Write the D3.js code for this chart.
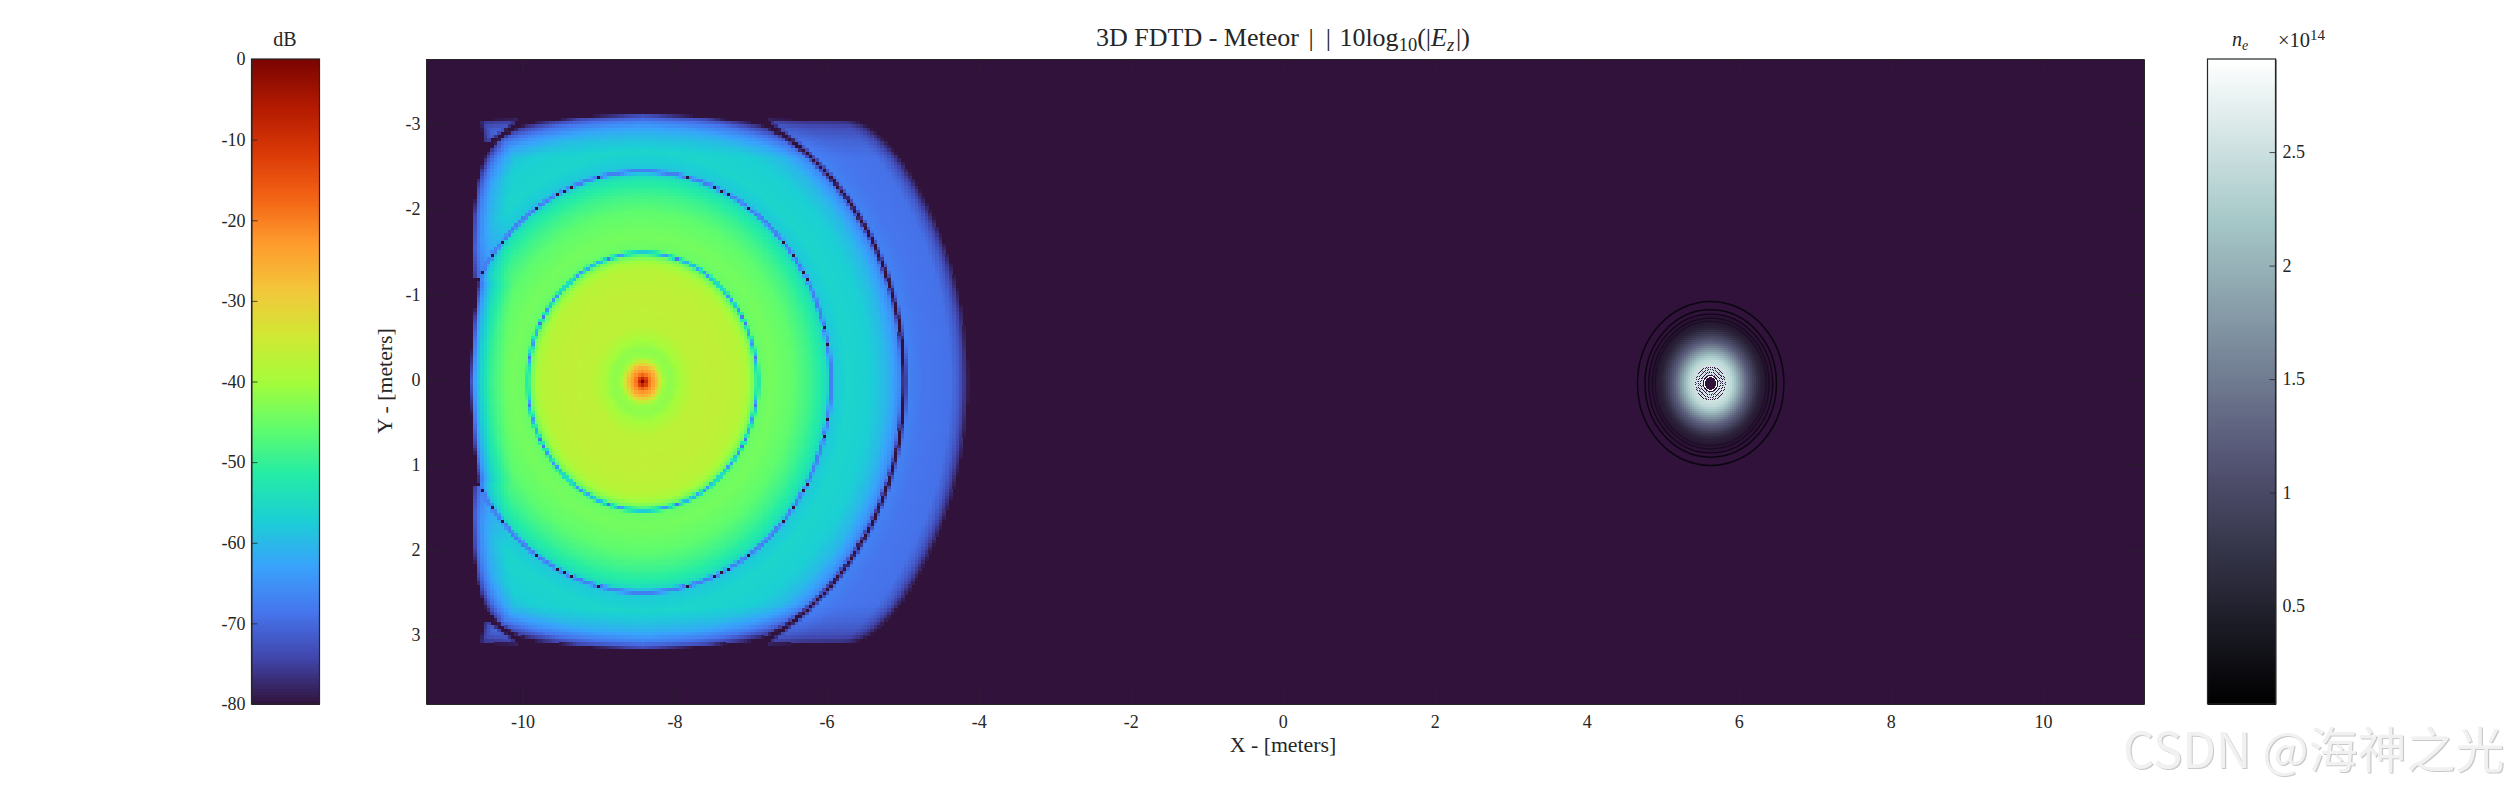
<!DOCTYPE html>
<html><head><meta charset="utf-8">
<script src="https://cdn.jsdelivr.net/npm/d3@7/dist/d3.min.js"></script>
<style>
html,body{margin:0;padding:0;background:#fff;overflow:hidden}
svg{display:block}
text{font-family:"Liberation Serif",serif;fill:#262626}
</style></head><body>
<script>
// NOTE: the simulated field has tens of thousands of cells and cannot be typed cell by cell.
// The arrays below are radial / edge profiles; each heatmap
// cell is looked up from them, so the cell values are a reconstruction, not per-cell readings.

const turboStops = ["#30123b","#4145ab","#4675ed","#39a2fc","#1bcfd4","#24eca6","#61fc6c","#a4fc3b","#d1e834","#f3c63a","#fe9b2d","#f36315","#d93806","#b11901","#7a0402"];
const boneStops  = ["#000000","#535373","#a6c8c8","#ffffff"];
const boneAt     = [0,0.375,0.75,1];
const background = "#30123b";

const xTicks = [-10,-8,-6,-4,-2,0,2,4,6,8,10];
const yTicks = [-3,-2,-1,0,1,2,3];
const dbTicks = [0,-10,-20,-30,-40,-50,-60,-70,-80];
const neTicks = [0.5,1,1.5,2,2.5];

// source position (metres)
const sourceX = -8.42, sourceY = 0.025;
// envelope of the field against distance from the source (metres -> dB)
const envelopeR  = [0,0.05,0.09,0.13,0.18,0.22,0.28,0.38,0.5,0.65,1.0,1.3,1.4,1.46,1.51,1.56,1.7,2.0,2.2,2.35,2.43,2.47,2.52,2.7,3.0,3.2,3.3,3.38,3.44,3.5,3.7,4.05,4.15,4.22,4.29];
const envelopeDb = [0,-10,-19,-23,-27,-33,-41,-42,-39.5,-37,-36.5,-37.5,-40,-44,-46,-45,-44,-46,-49,-52,-55,-58,-58,-56,-57,-60,-63,-66,-67,-67,-68.5,-69,-71.5,-75,-80];
// nodal rings: radius, width, usual lowest level and the level of an exact hit
const ringR     = [1.51,2.47,3.44];
const ringWidth = [0.04,0.04,0.06];
const ringFloor = [-64,-67,-80];
const ringExact = [-68,-80,-80];
// left edge of the lit region: |dy| from source -> dx from source (metres)
const leftEdgeDy = [0,0.37,0.77,1.15,1.23,1.55,1.94,2.33,2.6,2.76,3.2];
const leftEdgeDx = [-2.29,-2.27,-2.24,-2.2,-2.27,-2.28,-2.27,-2.23,-2.17,-2.1,-2.2];
// top and bottom edge: |dx| from source -> |dy| from source (metres)
const topEdgeDx = [0,0.7,1.4,1.7,5];
const topEdgeDy = [3.2,3.17,3.12,3.11,3.11];
// loss towards the edge of the lit region: distance -> dB
const edgeDist = [0,0.04,0.08,0.15,0.25,0.35,0.5];
const edgeLoss = [35,22,14,9,5,2.5,0];
const lobeLossShare = 0.45;

// plasma
const plasmaX = 5.63, plasmaY = 0.047;
const plasmaR = [0,0.2,0.27,0.33,0.4,0.47,0.55,0.65,0.75,0.86];
const plasmaN = [2.65,2.55,2.4,2.1,1.7,1.3,0.95,0.6,0.35,0.15];
const plasmaFadeR = [0.55,0.82];
const plasmaContours = [0.963,0.865,0.815,0.767,0.73];
const plasmaContourOpacity = [1,1,0.9,0.6,0.4];
const coreBands = [0.072,0.087,0.101,0.122,0.136,0.156,0.168,0.186,0.2];

const W = 2508, H = 792;
const main = {l:426,r:2144,t:59,b:704};
const x = d3.scaleLinear().domain([-11.27,11.33]).range([main.l,main.r]);
const y = d3.scaleLinear().domain([-3.763,3.81]).range([main.t,main.b]);
const dbScale = d3.scaleLinear().domain([-80,0]).range([704,59]);
const neScale = d3.scaleLinear().domain([0.069,2.91]).range([704,59]);

const turbo = d3.scaleLinear().domain(turboStops.map((_,i)=>-80+80*i/(turboStops.length-1))).range(turboStops).interpolate(d3.interpolateRgb).clamp(true);
const bone = d3.scaleLinear().domain(boneAt.map(t=>0.069+t*(2.91-0.069))).range(boneStops).interpolate(d3.interpolateRgb).clamp(true);
const envelope = d3.scaleLinear().domain(envelopeR).range(envelopeDb).clamp(true);
const leftEdge = d3.scaleLinear().domain(leftEdgeDy).range(leftEdgeDx).clamp(true);
const topEdge = d3.scaleLinear().domain(topEdgeDx).range(topEdgeDy).clamp(true);
const loss = d3.scaleLinear().domain(edgeDist).range(edgeLoss).clamp(true);
const plasmaDensity = d3.scaleLinear().domain(plasmaR).range(plasmaN).clamp(true);
const plasmaAlpha = d3.scaleLinear().domain(plasmaFadeR).range([1,0]).clamp(true);

const svg = d3.select("body").append("svg").attr("width",W).attr("height",H);
const plot = svg.append("g");
plot.append("rect").attr("x",main.l).attr("y",main.t).attr("width",main.r-main.l).attr("height",main.b-main.t).attr("fill",background);

// field cells
const cellX = 0.045, cellY = 0.04;
const fieldCells = [];
for (let i=-60;i<=110;i++) for (let j=-85;j<=85;j++){
  const dx=i*cellX, dy=j*cellY, r=Math.hypot(dx,dy);
  if (r>4.3) continue;
  const dT = topEdge(Math.abs(dx))-Math.abs(dy);
  const dL = dx-leftEdge(Math.abs(dy));
  if (dT<0||dL<0) continue;
  const share = r>ringR[2] ? lobeLossShare : 1;
  let v = envelope(r)-share*loss(Math.min(dT,dL));
  ringR.forEach((r0,k)=>{
    const d=Math.abs(r-r0);
    if (d<ringWidth[k]){
      const low = d<0.0025 ? ringExact[k] : ringFloor[k];
      v = Math.min(v, Math.max(v+20*Math.log10(Math.max(d,1e-4)/ringWidth[k]), low));
    }
  });
  if (v>-79.5) fieldCells.push({x:sourceX+dx,y:sourceY+dy,v});
}
plot.append("g").attr("shape-rendering","crispEdges").selectAll("rect").data(fieldCells).join("rect")
  .attr("x",d=>x(d.x-cellX/2)).attr("y",d=>y(d.y-cellY/2))
  .attr("width",x(cellX)-x(0)+0.4).attr("height",y(cellY)-y(0)+0.4)
  .attr("fill",d=>turbo(d.v));

// plasma cells
const pCellX=0.0263,pCellY=0.0235;
const plasmaCells=[];
for(let i=-36;i<=36;i++)for(let j=-40;j<=40;j++){
  const dx=i*pCellX,dy=j*pCellY,r=Math.hypot(dx,dy);
  if(r>0.84) continue;
  const c=d3.color(bone(plasmaDensity(r)));
  c.opacity=plasmaAlpha(r);
  plasmaCells.push({x:plasmaX+dx,y:plasmaY+dy,fill:c.formatRgb()});
}
plot.append("g").attr("shape-rendering","crispEdges").selectAll("rect").data(plasmaCells).join("rect")
  .attr("x",d=>x(d.x-pCellX/2)).attr("y",d=>y(d.y-pCellY/2))
  .attr("width",x(pCellX)-x(0)+0.3).attr("height",y(pCellY)-y(0)+0.3).attr("fill",d=>d.fill);
// plasma core, fine cells
const qCellX=pCellX/2,qCellY=pCellY/2;
const coreCells=[];
for(let i=-18;i<=18;i++)for(let j=-20;j<=20;j++){
  const dx=i*qCellX,dy=j*qCellY,r=Math.hypot(dx,dy);
  if(r>0.2) continue;
  const k=coreBands.findIndex(b=>r<b);
  let fill;
  if(k===0) fill=background;
  else {
    const dark=(k%2===0);
    if(dark&&(r<0.12||(i+j)%2===0)) fill=background;
    else if(!dark&&r<0.1) fill="#fdfdfd";
    else if(!dark&&(i*3+j*5)%7===0) fill="#6d6a8a";
    else fill=bone(plasmaDensity(r));
  }
  coreCells.push({x:plasmaX+dx,y:plasmaY+dy,fill});
}
plot.append("g").attr("shape-rendering","crispEdges").selectAll("rect").data(coreCells).join("rect")
  .attr("x",d=>x(d.x-qCellX/2)).attr("y",d=>y(d.y-qCellY/2))
  .attr("width",x(qCellX)-x(0)+0.2).attr("height",y(qCellY)-y(0)+0.2).attr("fill",d=>d.fill);
plot.append("g").selectAll("ellipse").data(plasmaContours).join("ellipse")
  .attr("cx",x(plasmaX)).attr("cy",y(plasmaY))
  .attr("rx",d=>x(d)-x(0)).attr("ry",d=>y(d)-y(0))
  .attr("fill","none").attr("stroke","#0a0610").attr("stroke-width",(d,i)=>i<2?1.5:1.2)
  .attr("stroke-opacity",(d,i)=>plasmaContourOpacity[i]);

// axes
const style = (g,size)=>{
  g.selectAll("text").attr("font-size",size).attr("fill","#262626").attr("font-family",'"Liberation Serif",serif');
  g.selectAll("line").attr("stroke","#262626").attr("stroke-width",0.8);
  g.selectAll(".domain").attr("stroke","#262626").attr("stroke-width",1);
};
const fmt = d=>String(d);
svg.append("g").attr("transform",`translate(0,${main.b})`)
  .call(d3.axisBottom(x).tickValues(xTicks).tickFormat(fmt).tickSizeInner(-17).tickSizeOuter(0).tickPadding(11)).call(style,18);
svg.append("g").attr("transform",`translate(${main.l},0)`)
  .call(d3.axisLeft(y).tickValues(yTicks).tickFormat(fmt).tickSizeInner(-17).tickSizeOuter(0).tickPadding(5.5)).call(style,18);
svg.append("g").attr("transform",`translate(0,${main.t})`)
  .call(d3.axisTop(x).tickValues(xTicks).tickFormat("").tickSizeInner(-17).tickSizeOuter(0)).call(style,18);
svg.append("g").attr("transform",`translate(${main.r},0)`)
  .call(d3.axisRight(y).tickValues(yTicks).tickFormat("").tickSizeInner(-17).tickSizeOuter(0)).call(style,18);

// colour bars
const barL={l:251.5,r:319.5}, barR={l:2207.5,r:2275.5};
const levels=d3.range(256);
svg.append("g").attr("shape-rendering","crispEdges").selectAll("rect").data(levels).join("rect")
  .attr("x",barL.l).attr("width",barL.r-barL.l)
  .attr("y",d=>dbScale(-80+80*(d+1)/256)).attr("height",645/256+0.6)
  .attr("fill",d=>turbo(-80+80*(d+0.5)/256));
svg.append("g").attr("shape-rendering","crispEdges").selectAll("rect").data(levels).join("rect")
  .attr("x",barR.l).attr("width",barR.r-barR.l)
  .attr("y",d=>neScale(0.069+2.841*(d+1)/256)).attr("height",645/256+0.6)
  .attr("fill",d=>bone(0.069+2.841*(d+0.5)/256));
[barL,barR].forEach(b=>svg.append("rect").attr("x",b.l).attr("y",59).attr("width",b.r-b.l).attr("height",645)
  .attr("fill","none").attr("stroke","#262626").attr("stroke-width",1.2));
svg.append("g").attr("transform",`translate(${barL.l},0)`)
  .call(d3.axisLeft(dbScale).tickValues(dbTicks).tickFormat(fmt).tickSizeInner(-6).tickSizeOuter(0).tickPadding(6)).call(style,18);
svg.append("g").attr("transform",`translate(${barR.r},0)`)
  .call(d3.axisRight(neScale).tickValues(neTicks).tickFormat(fmt).tickSizeInner(-6).tickSizeOuter(0).tickPadding(7)).call(style,18);

// labels
svg.append("text").attr("x",1283).attr("y",752).attr("text-anchor","middle").attr("font-size",21.8).text("X - [meters]");
svg.append("text").attr("transform","translate(392,381) rotate(-90)").attr("text-anchor","middle").attr("font-size",21.8).text("Y - [meters]");
svg.append("text").attr("x",285).attr("y",46).attr("text-anchor","middle").attr("font-size",20).text("dB");

const title=svg.append("text").attr("x",1283).attr("y",46).attr("text-anchor","middle").attr("font-size",26);
title.append("tspan").text("3D FDTD - Meteor ");
title.append("tspan").attr("dx",3).text("|");
title.append("tspan").attr("dx",12).text("|");
title.append("tspan").attr("dx",2).text(" 10log");
title.append("tspan").attr("font-size",18.5).attr("dy",5).text("10");
title.append("tspan").attr("dy",-5).text("(|");
title.append("tspan").attr("font-style","italic").text("E");
title.append("tspan").attr("font-style","italic").attr("font-size",18.5).attr("dy",5).text("z");
title.append("tspan").attr("dy",-5).attr("dx",2).text("|)");

const ne=svg.append("text").attr("x",2240).attr("y",46).attr("text-anchor","middle").attr("font-size",20);
ne.append("tspan").attr("font-style","italic").text("n");
ne.append("tspan").attr("font-style","italic").attr("font-size",14).attr("dy",4).text("e");
const e14=svg.append("text").attr("x",2278).attr("y",47).attr("font-size",20.5);
e14.append("tspan").text("×10");
e14.append("tspan").attr("font-size",15).attr("dy",-7).text("14");

// watermark
const mark="CSDN @海神之光";
[[1.2,1.2,"#c9c9c9"],[0,0,"#f1f1f1"]].forEach(([a,b,f])=>svg.append("text")
  .attr("x",2123+a).attr("y",768+b).attr("font-size",49)
  .style("font-family",'"Noto Sans CJK SC",sans-serif').style("fill",f).text(mark));
</script>
</body></html>
